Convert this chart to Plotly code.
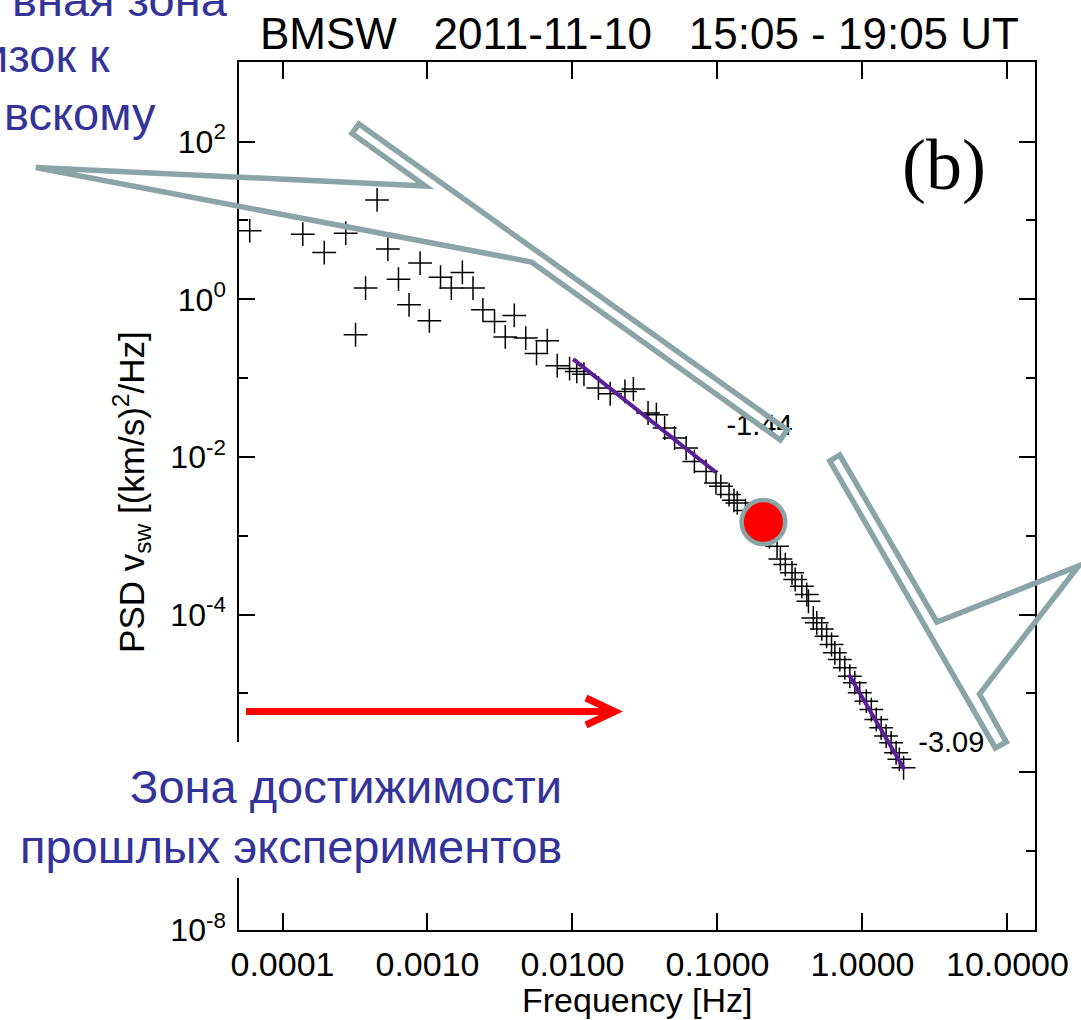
import plotly.graph_objects as go

# ---------------- data ----------------
freq = [5.94e-5, 1.38e-4, 1.94e-4, 2.73e-4, 4.49e-4, 5.33e-4, 3.74e-4, 3.19e-4,
        6.31e-4, 7.46e-4, 8.89e-4, 1.23e-3, 1.03e-3, 1.46e-3, 1.74e-3, 2.06e-3,
        2.41e-3, 2.90e-3, 3.97e-3, 3.44e-3, 4.76e-3, 6.70e-3, 5.65e-3, 7.85e-3,
        9.55e-3, 1.07e-2, 1.20e-2, 1.51e-2, 1.82e-2, 2.30e-2, 2.63e-2, 3.32e-2,
        3.79e-2, 4.32e-2, 5.06e-2, 6.08e-2, 6.93e-2, 8.34e-2, 9.76e-2, 0.1055,
        0.1202, 0.130, 0.137, 0.156, 0.1774, 0.2014, 0.228, 0.2576, 0.2716,
        0.2938, 0.3266, 0.3436, 0.382, 0.413, 0.424, 0.458, 0.484, 0.524, 0.566,
        0.612, 0.645, 0.698, 0.755, 0.818, 0.885, 0.957, 1.063, 1.151, 1.245,
        1.346, 1.456, 1.577, 1.706, 1.796, 1.921]
psd = [7.38, 6.70, 3.92, 6.90, 18.2, 4.33, 1.39, 0.355,
       1.80, 0.851, 2.88, 1.91, 0.533, 1.39, 2.19, 1.39,
       0.736, 0.524, 0.624, 0.333, 0.322, 0.298, 0.206, 0.1436,
       0.1324, 0.1216, 0.112, 0.0750, 0.0634, 0.0678, 0.0728, 0.0361,
       0.0344, 0.0233, 0.0174, 0.0130, 0.00879, 0.00656, 0.00468, 0.00424,
       0.00333, 0.00282, 0.00261, 0.00209, 0.00165, 0.00131, 0.000977, 0.000736, 0.000509,
       0.000432, 0.000339, 0.000279, 0.000229, 0.000180, 0.000148, 9.10e-5, 7.87e-5, 6.60e-5, 5.32e-5,
       4.18e-5, 3.28e-5, 2.70e-5, 2.12e-5, 1.66e-5, 1.37e-5, 1.02e-5, 7.98e-6, 6.26e-6, 4.68e-6,
       3.67e-6, 2.88e-6, 2.37e-6, 1.77e-6, 1.46e-6, 1.14e-6]

fit1_f = [0.0101, 0.0975]
fit1_p = [0.1746, 0.00640]
fit2_f = [0.805, 1.945]
fit2_p = [1.74e-5, 1.09e-6]

slope_labels = ["-1.44", "-3.09"]
slope_label_f = [0.195, 4.10]
slope_label_p = [0.0235, 2.26e-6]

x_tickvals = [1e-4, 1e-3, 1e-2, 1e-1, 1, 10]
x_ticktext = ["0.0001", "0.0010", "0.0100", "0.1000", "1.0000", "10.0000"]
y_tickvals = [1e2, 1e0, 1e-2, 1e-4, 1e-6, 1e-8]
# the 10^-6 label is hidden behind the text frame in the reference
y_ticktext = ["10<sup>2</sup>", "10<sup>0</sup>", "10<sup>-2</sup>",
              "10<sup>-4</sup>", "", "10<sup>-8</sup>"]
y_minor_vals = [1e1, 1e-1, 1e-3, 1e-5, 1e-7]

title_text = "BMSW\u00a0\u00a0\u00a02011-11-10\u00a0\u00a0\u00a015:05 - 19:05 UT"
x_title = "Frequency [Hz]"
y_title = "PSD v<sub>sw</sub> [(km/s)<sup>2</sup>/Hz]"
panel_label = "(b)"
note_top = ["вная зона", "изок к", "вскому"]
note_bottom = ["Зона достижимости", "прошлых экспериментов"]

# ---------------- layout geometry ----------------
W, H = 1081, 1020
ML, MR, MT, MB = 239, 39, 62, 90
PW, PH = W - ML - MR, H - MT - MB

SANS = "Liberation Sans, Arial, Helvetica, sans-serif"
BLUE = "#333399"
GRAY = "#8BA5A6"
PURPLE = "#5A1E96"


def px(x):
    return (x - ML) / PW


def py(y):
    return (MT + PH - y) / PH


def path(points, close=True):
    s = "M " + " L ".join(f"{px(a):.5f},{py(b):.5f}" for a, b in points)
    return s + (" Z" if close else "")


fig = go.Figure()

fig.add_trace(go.Scatter(
    x=freq, y=psd, mode="markers",
    marker=dict(symbol="cross-thin", size=17, color="black",
                line=dict(color="black", width=1.5)),
    showlegend=False, cliponaxis=False))

fig.add_trace(go.Scatter(x=fit1_f, y=fit1_p, mode="lines",
                         line=dict(color=PURPLE, width=4), showlegend=False))
fig.add_trace(go.Scatter(x=fit2_f, y=fit2_p, mode="lines",
                         line=dict(color=PURPLE, width=4), showlegend=False))

fig.add_trace(go.Scatter(x=slope_label_f, y=slope_label_p, mode="text",
                         text=slope_labels,
                         textfont=dict(family=SANS, size=29, color="black"),
                         showlegend=False, cliponaxis=False))

axis_common = dict(type="log", showgrid=False, zeroline=False, showline=True,
                   linecolor="black", linewidth=1.5, mirror="ticks",
                   ticks="inside", tickwidth=1.5, tickcolor="black",
                   tickmode="array", ticklabeloverflow="allow")

fig.update_xaxes(**axis_common, range=[-4.30, 1.19], tickvals=x_tickvals,
                 ticktext=x_ticktext, ticklen=17, ticklabelstandoff=3,
                 tickfont=dict(family=SANS, size=34, color="black"))
fig.update_yaxes(**axis_common, range=[-8, 3.01], tickvals=y_tickvals,
                 ticktext=y_ticktext, ticklen=16, ticklabelstandoff=5,
                 tickfont=dict(family=SANS, size=32, color="black"),
                 minor=dict(tickmode="array", tickvals=y_minor_vals,
                            ticks="inside", ticklen=9, tickwidth=1.5,
                            tickcolor="black", showgrid=False))

shapes = []
# white box of the text frame (hides part of the left axis)
shapes.append(dict(type="rect", xref="paper", yref="paper", layer="above",
                   x0=px(-5), x1=px(578), y0=py(878), y1=py(742),
                   fillcolor="white", line=dict(width=0)))
# callout 1
shapes.append(dict(type="path", xref="paper", yref="paper", layer="above",
                   path=path([(360, 124), (792, 430), (785, 440), (534, 262),
                              (34, 167.5), (427, 186), (353, 133.5)]),
                   line=dict(color=GRAY, width=5.5), fillcolor="rgba(0,0,0,0)"))
# callout 2
shapes.append(dict(type="path", xref="paper", yref="paper", layer="above",
                   path=path([(845, 455), (943, 622), (1086, 566), (986, 694),
                              (1013, 742), (1002, 748), (835, 461)]),
                   line=dict(color=GRAY, width=5.5), fillcolor="rgba(0,0,0,0)"))
# red marker circle
shapes.append(dict(type="circle", xref="paper", yref="paper", layer="above",
                   x0=px(746), x1=px(790), y0=py(544), y1=py(500),
                   fillcolor="#FF0000", line=dict(color=GRAY, width=4.5)))
# red arrow
shapes.append(dict(type="line", xref="paper", yref="paper", layer="above",
                   x0=px(246), x1=px(614), y0=py(711.5), y1=py(711.5),
                   line=dict(color="#FF0000", width=7)))
shapes.append(dict(type="path", xref="paper", yref="paper", layer="above",
                   path=path([(589, 698), (618, 711.5), (589, 725)], close=False),
                   line=dict(color="#FF0000", width=7)))
fig.update_layout(shapes=shapes)

ann = []
ann.append(dict(text=title_text, x=px(643), y=py(33), xref="paper", yref="paper",
                showarrow=False, xanchor="center", yanchor="middle",
                font=dict(family=SANS, size=44, color="black")))
ann.append(dict(text=x_title, x=px(641), y=py(1000), xref="paper", yref="paper",
                showarrow=False, xanchor="center", yanchor="middle",
                font=dict(family=SANS, size=34, color="black")))
ann.append(dict(text=y_title, x=px(130), y=py(492), xref="paper", yref="paper",
                showarrow=False, xanchor="center", yanchor="middle", textangle=-90,
                font=dict(family=SANS, size=35, color="black")))
ann.append(dict(text=panel_label, x=px(950), y=py(165), xref="paper", yref="paper",
                showarrow=False, xanchor="center", yanchor="middle",
                font=dict(family="Liberation Serif, DejaVu Serif, serif", size=72,
                          color="black")))
for txt, xx, yy in zip(note_top, [8, -22, 0], [-1, 56, 114]):
    ann.append(dict(text=txt, x=px(xx), y=py(yy), xref="paper", yref="paper",
                    showarrow=False, xanchor="left", yanchor="middle",
                    font=dict(family=SANS, size=47, color=BLUE)))
for txt, yy in zip(note_bottom, [786, 846]):
    ann.append(dict(text=txt, x=px(567), y=py(yy), xref="paper", yref="paper",
                    showarrow=False, xanchor="right", yanchor="middle",
                    font=dict(family=SANS, size=47, color=BLUE)))
fig.update_layout(annotations=ann)

fig.update_layout(width=W, height=H, margin=dict(l=ML, r=MR, t=MT, b=MB),
                  paper_bgcolor="white", plot_bgcolor="white", showlegend=False)

fig.write_html("out.html")
